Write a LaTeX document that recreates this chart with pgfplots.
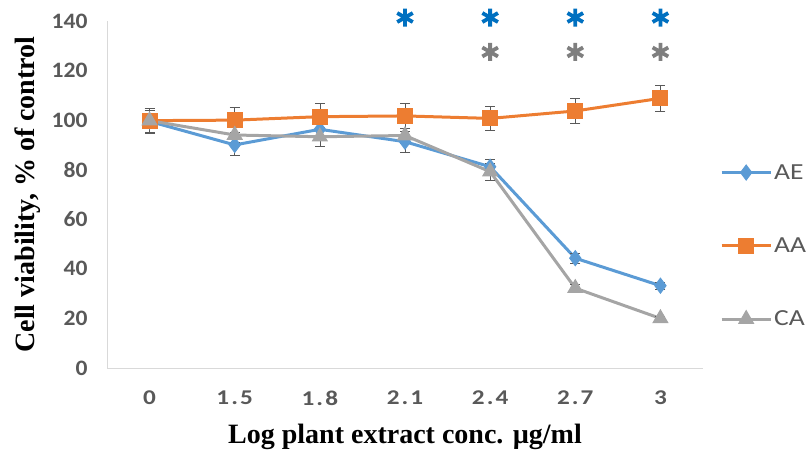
\documentclass[border=0pt]{standalone}
\usepackage{pgfplots}
\pgfplotsset{compat=1.18}
\usepackage{fontspec}
\setmainfont{Liberation Serif}
\newfontfamily\caly[FakeStretch=1.07]{Carlito}
\newfontfamily\calx[FakeStretch=1.2, LetterSpace=10]{Carlito}
\newfontfamily\call[FakeStretch=1.2]{Carlito}
\definecolor{cAE}{HTML}{5B9BD5}
\definecolor{cAA}{HTML}{ED7D31}
\definecolor{cCA}{HTML}{A5A5A5}
\definecolor{astblue}{HTML}{0070C0}
\definecolor{astgray}{HTML}{7F7F7F}
\definecolor{tgray}{HTML}{595959}
\definecolor{lgray}{HTML}{D9D9D9}
\pgfplotsset{errs/.style={
  /pgfplots/error bars/y dir=both, /pgfplots/error bars/y explicit,
  /pgfplots/error bars/error bar style={line width=0.6pt, tgray, solid},
  /pgfplots/error bars/error mark options={line width=0.6pt, tgray, mark size=5pt, rotate=90}}}
\begin{document}
\begin{tikzpicture}
\path[use as bounding box] (0,0) rectangle (809pt,455pt);
\begin{axis}[
  scale only axis, width=596pt, height=347pt,
  at={(107pt,87pt)}, anchor=south west,
  xmin=-0.5, xmax=6.5, ymin=0, ymax=140,
  xtick={0,...,6}, xticklabels={0,1.5,1.8,2.1,2.4,2.7,3},
  ytick={0,20,...,140},
  axis x line*=bottom, axis y line*=left,
  axis line style={draw=lgray, line width=0.8pt, -},
  major tick length=0pt,
  /pgf/number format/assume math mode=true,
  yticklabel style={font=\caly\bfseries\fontsize{22}{24}\selectfont, text=tgray, xshift=-16pt},
  xticklabel style={font=\calx\bfseries\fontsize{21}{24}\selectfont, text=tgray, yshift=-19pt},
  xlabel={\bfseries Log plant extract conc. µg/ml},
  ylabel={\bfseries Cell viability, \% of control},
  label style={font=\fontsize{28}{30}\selectfont, text=black},
  xlabel style={at={(axis description cs:0.5,-0.199)}, anchor=center},
  ylabel style={at={(axis description cs:-0.1326,0.5)}, anchor=center, rotate=0},
  clip=false,
  legend style={at={(1.0285,0.352)}, anchor=west, draw=none, fill=none, inner sep=0pt,
    font=\call\fontsize{23}{26}\selectfont, text=tgray, row sep=53pt},
  legend cell align=left,
  legend image code/.code={\draw[mark repeat=2,mark phase=2,#1] plot coordinates {(0pt,0pt)(24.5pt,0pt)(49pt,0pt)};},
]
\addplot[cAE, line width=3pt, mark=diamond*, mark size=7.5pt, mark options={solid, fill=cAE, draw=cAE, line width=1pt}, errs]
  coordinates {(0,99.5) +- (0,4.5) (1,90.0) +- (0,4) (2,96.3) +- (0,3.5) (3,91.3) +- (0,4.3)
               (4,81.2) +- (0,3) (5,44.3) +- (0,2) (6,33.2) +- (0,1.5)};
\addlegendentry{AE}
\addplot[cAA, line width=3pt, mark=square*, mark size=7.5pt, mark options={solid, fill=cAA, draw=cAA, line width=1pt}, errs]
  coordinates {(0,99.8) +- (0,5) (1,100.0) +- (0,5) (2,101.4) +- (0,5.2) (3,101.7) +- (0,5)
               (4,100.7) +- (0,5) (5,103.7) +- (0,5) (6,108.8) +- (0,5.4)};
\addlegendentry{AA}
\addplot[cCA, line width=3pt, mark=triangle*, mark size=8.5pt, mark options={solid, fill=cCA, draw=cCA, line width=1pt}, errs]
  coordinates {(0,99.8) +- (0,3) (1,94.0) +- (0,3) (2,93.3) +- (0,4) (3,93.8) +- (0,3)
               (4,79.2) +- (0,3.5) (5,32.2) +- (0,1.5) (6,20.0) +- (0,1)};
\addlegendentry{CA}
\addplot[forget plot, only marks, mark=asterisk, mark size=9pt, astblue, mark options={line width=3.8pt}]
  coordinates {(3,141.4) (4,141.4) (5,141.4) (6,141.4)};
\addplot[forget plot, only marks, mark=asterisk, mark size=9pt, astgray, mark options={line width=3.8pt}]
  coordinates {(4,127.5) (5,127.5) (6,127.5)};
\end{axis}
\end{tikzpicture}
\end{document}
